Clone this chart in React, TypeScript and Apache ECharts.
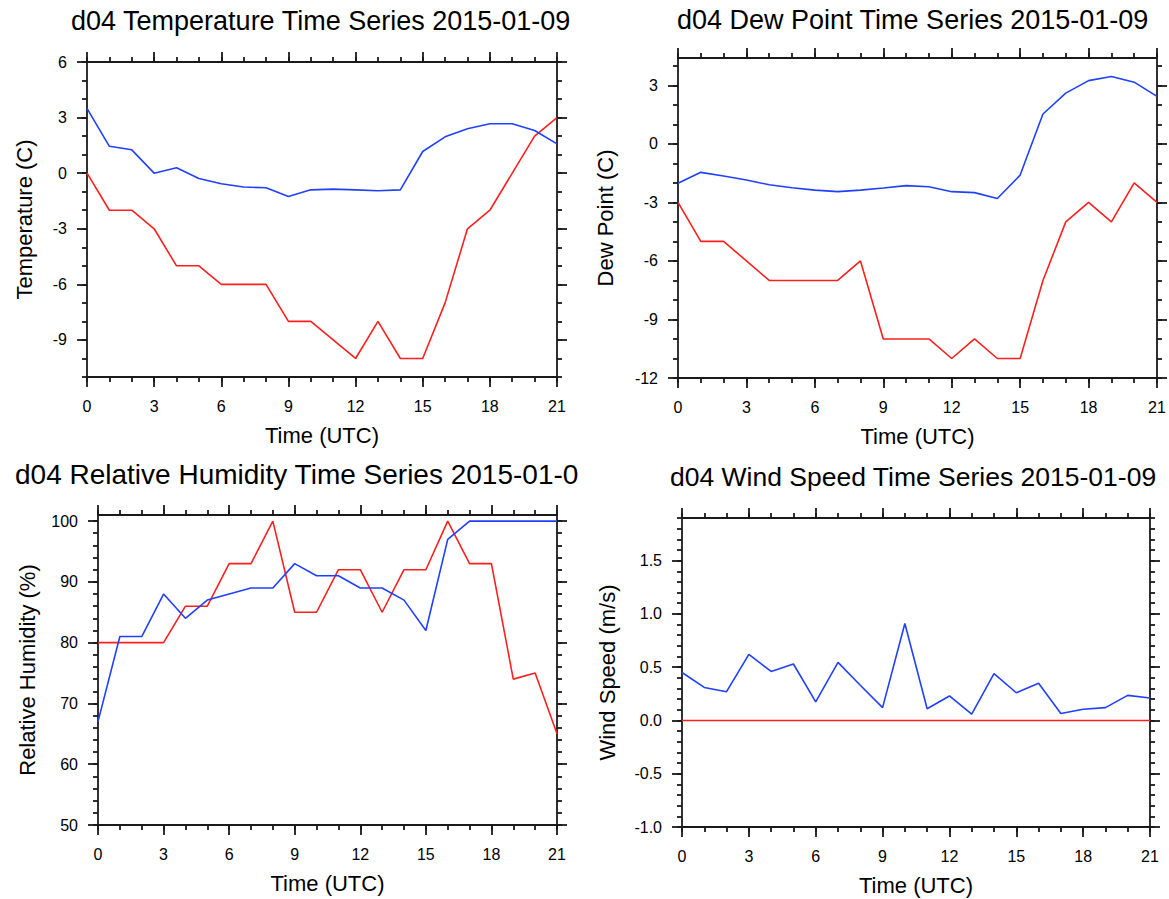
import React, { useEffect, useRef } from "react";
import * as echarts from "echarts";

const FONT = "'Liberation Sans', Arial, Helvetica, sans-serif";

const hours = [0, 1, 2, 3, 4, 5, 6, 7, 8, 9, 10, 11, 12, 13, 14, 15, 16, 17, 18, 19, 20, 21];
const xMajorTicks = [0, 3, 6, 9, 12, 15, 18, 21];

// Temperature (C)
const tempRed = [0, -2, -2, -3, -5, -5, -6, -6, -6, -8, -8, -9, -10, -8, -10, -10, -7, -3, -2, 0, 2, 3];
const tempBlue = [3.5, 1.45, 1.26, 0, 0.29, -0.29, -0.57, -0.75, -0.79, -1.26, -0.9, -0.86, -0.9, -0.95, -0.9, 1.17, 1.96, 2.4, 2.67, 2.67, 2.3, 1.58];
const tempTicks = [-9, -6, -3, 0, 3, 6];

// Dew point (C)
const dewRed = [-3, -5, -5, -6, -7, -7, -7, -7, -6, -10, -10, -10, -11, -10, -11, -11, -7, -4, -3, -4, -2, -3];
const dewBlue = [-2.02, -1.46, -1.65, -1.85, -2.1, -2.25, -2.37, -2.45, -2.37, -2.26, -2.14, -2.2, -2.45, -2.5, -2.8, -1.6, 1.53, 2.6, 3.24, 3.45, 3.16, 2.43];
const dewTicks = [-12, -9, -6, -3, 0, 3];

// Relative humidity (%)
const rhRed = [80, 80, 80, 80, 86, 86, 93, 93, 100, 85, 85, 92, 92, 85, 92, 92, 100, 93, 93, 74, 75, 65];
const rhBlue = [67, 81, 81, 88, 84, 87, 88, 89, 89, 93, 91, 91, 89, 89, 87, 82, 97, 100, 100, 100, 100, 100];
const rhTicks = [50, 60, 70, 80, 90, 100];

// Wind speed (m/s)
const windRed = [0, 0, 0, 0, 0, 0, 0, 0, 0, 0, 0, 0, 0, 0, 0, 0, 0, 0, 0, 0, 0, 0];
const windBlue = [0.45, 0.31, 0.27, 0.62, 0.46, 0.53, 0.175, 0.545, 0.33, 0.12, 0.91, 0.11, 0.23, 0.06, 0.44, 0.26, 0.35, 0.065, 0.105, 0.12, 0.235, 0.21];
const windTicks = [-1.0, -0.5, 0.0, 0.5, 1.0, 1.5];

function steps(from: number, to: number, step: number): number[] {
  const out: number[] = [];
  const n = Math.round((to - from) / step);
  for (let k = 0; k <= n; k++) out.push(Math.round((from + k * step) * 1000) / 1000);
  return out;
}

const panels = [
  {
    title: "d04 Temperature Time Series 2015-01-09",
    titleX: 71, titleY: 21, titleSize: 27,
    yName: "Temperature (C)", yNameGap: 52,
    grid: { left: 87, top: 62, width: 470, height: 315 },
    yMin: -11, yMax: 6, yTicks: tempTicks, yMinor: steps(-11, 6, 1), dec: 0,
    red: tempRed, blue: tempBlue,
  },
  {
    title: "d04 Dew Point Time Series 2015-01-09",
    titleX: 677, titleY: 20, titleSize: 27,
    yName: "Dew Point (C)", yNameGap: 62,
    grid: { left: 678, top: 58, width: 479, height: 320 },
    yMin: -12, yMax: 4.4, yTicks: dewTicks, yMinor: steps(-12, 4, 1), dec: 0,
    red: dewRed, blue: dewBlue,
  },
  {
    title: "d04 Relative Humidity Time Series 2015-01-09",
    titleX: 15, titleY: 474, titleSize: 28, clipWidth: 574,
    yName: "Relative Humidity (%)", yNameGap: 60,
    grid: { left: 98, top: 515, width: 459, height: 310 },
    yMin: 50, yMax: 101, yTicks: rhTicks, yMinor: steps(50, 100, 2), dec: 0,
    red: rhRed, blue: rhBlue,
  },
  {
    title: "d04 Wind Speed Time Series 2015-01-09",
    titleX: 670, titleY: 477, titleSize: 26.5,
    yName: "Wind Speed (m/s)", yNameGap: 64,
    grid: { left: 682, top: 518, width: 468, height: 309 },
    yMin: -1, yMax: 1.9, yTicks: windTicks, yMinor: steps(-1, 1.9, 0.1), dec: 1,
    red: windRed, blue: windBlue,
  },
];

export default function App() {
  const ref = useRef<HTMLDivElement>(null);
  useEffect(() => {
    if (!ref.current) return;
    const chart = echarts.init(ref.current, null, { renderer: "svg" });
    const lineStyle = { color: "#1a1a1a", width: 1.8 };
    const xAxis: any[] = [];
    const yAxis: any[] = [];
    const series: any[] = [];
    const graphic: any[] = [];
    panels.forEach((p, i) => {
      const base = {
        gridIndex: i,
        type: "value",
        splitLine: { show: false },
        axisLine: { show: true, onZero: false, lineStyle },
      };
      const noLine = { show: false, onZero: false };
      xAxis.push({
        ...base, position: "bottom", min: 0, max: 21,
        axisTick: { show: true, inside: false, length: 10, customValues: xMajorTicks, lineStyle },
        axisLabel: { show: true, customValues: xMajorTicks, margin: 21, fontSize: 16, color: "#000", fontFamily: FONT },
        name: "Time (UTC)", nameLocation: "middle", nameGap: 47,
        nameTextStyle: { fontSize: 22, color: "#000", fontFamily: FONT },
      });
      xAxis.push({
        ...base, position: "bottom", min: 0, max: 21, axisLine: noLine,
        axisTick: { show: true, inside: false, length: 5, customValues: hours, lineStyle },
        axisLabel: { show: false },
      });
      xAxis.push({
        ...base, position: "top", min: 0, max: 21,
        axisTick: { show: true, inside: false, length: 10, customValues: xMajorTicks, lineStyle },
        axisLabel: { show: false },
      });
      xAxis.push({
        ...base, position: "top", min: 0, max: 21, axisLine: noLine,
        axisTick: { show: true, inside: false, length: 5, customValues: hours, lineStyle },
        axisLabel: { show: false },
      });
      yAxis.push({
        ...base, position: "left", min: p.yMin, max: p.yMax,
        axisTick: { show: true, inside: false, length: 10, customValues: p.yTicks, lineStyle },
        axisLabel: {
          show: true, customValues: p.yTicks, margin: 20, fontSize: 16, color: "#000", fontFamily: FONT,
          formatter: (v: number) => v.toFixed(p.dec),
        },
        name: p.yName, nameLocation: "middle", nameGap: p.yNameGap, nameRotate: 90,
        nameTextStyle: { fontSize: 22, color: "#000", fontFamily: FONT },
      });
      yAxis.push({
        ...base, position: "left", min: p.yMin, max: p.yMax, axisLine: noLine,
        axisTick: { show: true, inside: false, length: 5, customValues: p.yMinor, lineStyle },
        axisLabel: { show: false },
      });
      yAxis.push({
        ...base, position: "right", min: p.yMin, max: p.yMax,
        axisTick: { show: true, inside: false, length: 10, customValues: p.yTicks, lineStyle },
        axisLabel: { show: false },
      });
      yAxis.push({
        ...base, position: "right", min: p.yMin, max: p.yMax, axisLine: noLine,
        axisTick: { show: true, inside: false, length: 5, customValues: p.yMinor, lineStyle },
        axisLabel: { show: false },
      });
      series.push({
        type: "line", xAxisIndex: 4 * i, yAxisIndex: 4 * i,
        data: hours.map((h, k) => [h, p.red[k]]),
        showSymbol: false, silent: true,
        lineStyle: { color: "#ff1f1f", width: 1.6 },
        itemStyle: { color: "#ff1f1f" },
      });
      series.push({
        type: "line", xAxisIndex: 4 * i, yAxisIndex: 4 * i,
        data: hours.map((h, k) => [h, p.blue[k]]),
        showSymbol: false, silent: true,
        lineStyle: { color: "#2040ff", width: 1.6 },
        itemStyle: { color: "#2040ff" },
      });
      const style: any = {
        text: p.title, fontSize: p.titleSize, fontFamily: FONT, fill: "#000",
        align: "left", verticalAlign: "middle",
      };
      if ((p as any).clipWidth) {
        style.width = (p as any).clipWidth;
        style.overflow = "truncate";
        style.ellipsis = "";
      }
      graphic.push({ type: "text", x: p.titleX, y: p.titleY, silent: true, style });
    });
    chart.setOption({
      animation: false,
      backgroundColor: "#fff",
      grid: panels.map((p) => ({ ...p.grid, containLabel: false })),
      xAxis,
      yAxis,
      series,
      graphic,
    });
    return () => chart.dispose();
  }, []);
  return (
    <div
      ref={ref}
      style={{ position: "absolute", left: 0, top: 0, width: 1169, height: 899 }}
    />
  );
}
